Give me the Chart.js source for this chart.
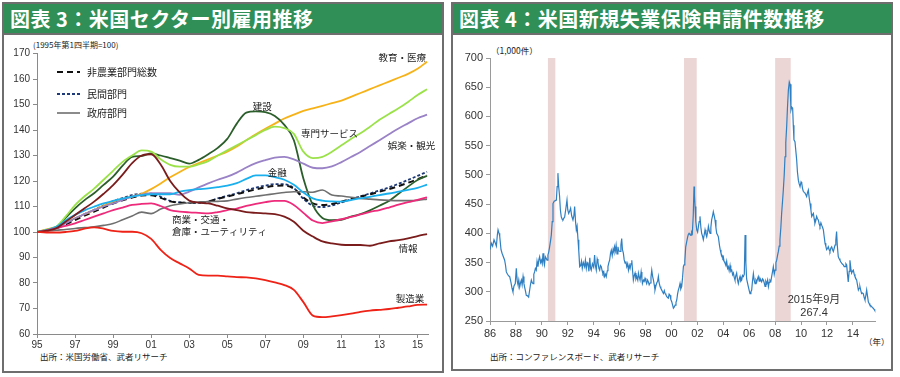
<!DOCTYPE html>
<html>
<head>
<meta charset="utf-8">
<script src="https://cdn.jsdelivr.net/npm/chart.js@4.4.1/dist/chart.umd.min.js"></script>
<style>
  body { margin: 0; width: 900px; height: 377px; background: #fff; position: relative; overflow: hidden;
         font-family: "Noto Sans CJK JP", "Liberation Sans", sans-serif; }
  .panel { position: absolute; border: 2px solid #6e6e6e; box-sizing: border-box; background: #fff; }
  .hdr { height: 29px; line-height: 29px; background: #2f8f57; color: #fff; font-weight: bold; font-size: 20px;
         padding-left: 6px; border-bottom: 2px solid #6e6e6e; white-space: nowrap; letter-spacing: 0.5px; }
  .note { position: absolute; font-size: 8.5px; color: #222; white-space: nowrap; line-height: 1; }
  canvas { position: absolute; }
</style>
</head>
<body>
<div class="panel" style="left:2px;top:2px;width:442px;height:371px"><div class="hdr">図表 3：米国セクター別雇用推移</div></div>
<div class="panel" style="left:451px;top:2px;width:442px;height:369px"><div class="hdr">図表 4：米国新規失業保険申請件数推移</div></div>

<div class="note" style="left:33px;top:41px;font-size:8px">(1995年第1四半期=100)</div>
<div class="note" style="left:40px;top:352px">出所：米国労働省、武者リサーチ</div>
<div class="note" style="left:491px;top:46px">（1,000件）</div>
<div class="note" style="left:864px;top:337px">（年）</div>
<div class="note" style="left:490px;top:352px">出所：コンファレンスボード、武者リサーチ</div>

<canvas id="jobs" width="435" height="330" style="left:5px;top:36px"></canvas>
<canvas id="claims" width="434" height="330" style="left:455px;top:36px"></canvas>

<script>
// ---- Chart 3: employment by sector (index, 1995 Q1 = 100), half-year readings ----
const years = [1995, 1995.5, 1996, 1996.5, 1997, 1997.5, 1998, 1998.5, 1999, 1999.5,
  2000, 2000.5, 2001, 2001.5, 2002, 2002.5, 2003, 2003.5, 2004, 2004.5,
  2005, 2005.5, 2006, 2006.5, 2007, 2007.5, 2008, 2008.5, 2009, 2009.5,
  2010, 2010.5, 2011, 2011.5, 2012, 2012.5, 2013, 2013.5, 2014, 2014.5,
  2015, 2015.5];

const totalNonfarm = [100, 100.7, 101.4, 103, 104.7, 106.4, 108, 109.6, 111.2, 112.4,
  113.5, 114.3, 114.4, 113.4, 112, 111.6, 111.5, 111.6, 111.9, 113,
  113.9, 114.8, 115.8, 116.7, 117.5, 118.1, 118.2, 117, 113.5, 111.2,
  110.6, 111, 111.9, 112.9, 113.9, 114.8, 115.8, 116.8, 118, 119.3,
  120.7, 122.3];
const privateSector = [100, 100.8, 101.6, 103.4, 105.2, 107, 108.7, 110.4, 112.1, 113.3,
  114.5, 115, 115, 113.8, 112.2, 111.6, 111.4, 111.4, 111.9, 113.2,
  114.2, 115.2, 116.4, 117.4, 118.2, 118.8, 118.7, 117.2, 113, 110.3,
  109.8, 110.4, 111.6, 112.8, 114, 115.1, 116.3, 117.5, 118.9, 120.4,
  122, 123.6];
const government = [100, 100.3, 100.7, 101, 101.4, 101.7, 102, 102.6, 103.3, 104.8,
  106.3, 107.8, 107.2, 109, 110.3, 111, 111.5, 111.7, 111.9, 112,
  112.2, 112.9, 113.5, 114, 114.5, 115, 115.5, 115.8, 115.8, 115.6,
  116.5, 114.5, 114.1, 113.6, 113.2, 112.9, 112.6, 112.4, 112.3, 112.3,
  112.4, 112.9];
const eduHealth = [100, 101, 102, 103.7, 105.4, 107, 108.6, 110.3, 111.9, 113,
  113.9, 115, 116.8, 119, 121.5, 123.5, 125.5, 127, 128.5, 130,
  131.5, 133.5, 136, 138.3, 140.5, 142.5, 144.5, 146, 147.5, 148.5,
  149.5, 150.5, 151.5, 153, 154.5, 156, 157.5, 159, 160.5, 162,
  164, 166.8];
const profServices = [100, 100.8, 102, 106, 110.5, 114, 117, 120.5, 124, 127.5,
  130, 132, 131.5, 128.5, 126.3, 125.6, 125.6, 126.5, 127.8, 130,
  132, 134, 136, 138, 140, 141.3, 140.7, 138.5, 131.5, 129,
  129.5, 131.5, 134, 136.5, 138.7, 141.3, 144, 146.3, 148.5, 151,
  153.7, 156];
const leisure = [100, 100.5, 101.4, 103.4, 105.4, 107, 108.6, 110, 111.2, 112.6,
  113.9, 114.6, 115.2, 115.2, 115.2, 114.6, 115.8, 117.5, 119.1, 120.5,
  121.7, 123.3, 125.3, 127, 128.2, 129.2, 129.5, 128.5, 126.8, 125.2,
  125, 125.7, 127.4, 129.4, 131.4, 133.7, 136, 138.3, 140.6, 142.6,
  144.6, 146];
const construction = [100, 100.5, 101.7, 105.5, 109.3, 112.5, 115.2, 118.5, 121.7, 126,
  129.5, 129.8, 130.8, 130, 129, 128, 126.8, 128.3, 130.5, 133,
  136.5, 142.5, 146.8, 147.3, 147, 145.5, 142, 136, 121, 110.5,
  105.5, 104.6, 104.8, 106, 107, 108.5, 110.3, 112.2, 115, 117.8,
  120.4, 122];
const finance = [100, 100.8, 102, 104.5, 106.7, 108.5, 109.9, 111.2, 112.2, 113.1,
  113.9, 114.5, 114.8, 114.8, 114.8, 115.8, 116.4, 116.8, 117.1, 117.6,
  118.2, 119.2, 120.8, 122.2, 122.2, 121.5, 120.5, 118.5, 115.5, 113.2,
  112.3, 112, 111.9, 112.5, 113.2, 113.8, 114.5, 115.1, 115.8, 116.5,
  117.3, 118.6];
const tradeTransport = [100, 100.5, 101.4, 102.4, 103.4, 104.7, 106, 107.3, 108.6, 109.6,
  110.6, 111, 111.2, 110.2, 108.6, 108, 107.7, 107.5, 107.3, 107.8,
  108.6, 109.2, 110.2, 111, 111.7, 112.2, 112.2, 110.6, 107.5, 104.5,
  103.5, 104.2, 105, 105.9, 106.9, 107.9, 108.6, 109.6, 110.7, 111.7,
  112.6, 113.6];
const information = [100, 100.5, 101.4, 104, 106.7, 109.3, 111.9, 115, 118.4, 122.5,
  127, 130, 130.5, 126.5, 120, 115.5, 112.3, 111.5, 111.2, 110.3,
  109.3, 108.6, 107.8, 107.5, 107.3, 107, 106, 104, 100.5, 98.2,
  96.3, 95.5, 95, 94.9, 94.9, 94.6, 95.5, 96.3, 96.8, 97.5,
  98.4, 99.2];
const manufacturing = [100, 99.8, 99.8, 100, 100.4, 101.3, 101.8, 101.3, 100.4, 100.1,
  100.1, 99.5, 97.3, 93, 89.8, 87.7, 85.7, 83.2, 82.9, 82.9,
  82.6, 82.3, 82.2, 81.8, 81.1, 80.2, 79.2, 77.3, 72.5, 67.2,
  66.6, 66.9, 67.4, 68, 68.7, 69.2, 69.5, 69.8, 70.3, 70.8,
  71.4, 71.5];
const jobsTickYears = [1995, 1997, 1999, 2001, 2003, 2005, 2007, 2009, 2011, 2013, 2015];

// ---- Chart 4: initial jobless claims (1,000), [decimal year, value] readings ----
const claims = [
  [1986.0,372],[1986.1,383],[1986.2,378],[1986.31,389],[1986.4,384],[1986.49,378],[1986.57,398],[1986.62,406],[1986.7,400],[1986.75,395],[1986.85,372],[1986.93,366],
  [1987.03,360],[1987.13,354],[1987.2,345],[1987.26,334],[1987.35,330],[1987.45,327],[1987.52,326],[1987.6,318],[1987.7,306],[1987.77,300],[1987.85,310],[1987.95,314],
  [1988.03,340],[1988.1,318],[1988.16,312],[1988.22,320],[1988.29,308],[1988.36,316],[1988.42,320],[1988.48,312],[1988.55,326],[1988.62,314],[1988.67,308],[1988.75,300],[1988.8,294],[1988.9,293],[1988.98,291],
  [1989.06,303],[1989.12,312],[1989.19,320],[1989.25,316],[1989.32,314],[1989.38,330],[1989.44,334],[1989.5,340],[1989.57,337],[1989.63,352],[1989.7,343],[1989.77,355],[1989.83,360],[1989.9,350],[1989.96,354],
  [1990.03,348],[1990.09,366],[1990.15,352],[1990.2,346],[1990.27,360],[1990.34,357],[1990.4,354],[1990.47,363],[1990.53,368],[1990.6,377],[1990.67,387],[1990.73,397],[1990.8,420],[1990.86,451],[1990.95,455],
  [1991.04,456],[1991.12,457],[1991.18,480],[1991.24,503],[1991.3,480],[1991.37,463],[1991.43,440],[1991.5,428],[1991.57,424],[1991.63,423],[1991.7,426],[1991.76,428],[1991.85,442],[1991.94,457],
  [1992.0,440],[1992.07,434],[1992.15,438],[1992.22,443],[1992.3,430],[1992.4,423],[1992.47,430],[1992.53,446],[1992.6,420],[1992.66,406],[1992.72,412],[1992.79,389],[1992.85,370],[1992.92,343],
  [1993.0,345],[1993.06,352],[1993.12,340],[1993.2,350],[1993.3,343],[1993.36,354],[1993.43,340],[1993.5,350],[1993.56,348],[1993.63,335],[1993.7,358],[1993.76,340],[1993.81,337],[1993.9,348],
  [1994.0,342],[1994.07,363],[1994.13,345],[1994.2,337],[1994.27,356],[1994.33,351],[1994.4,340],[1994.46,337],[1994.52,345],[1994.59,343],[1994.65,336],[1994.71,331],[1994.78,334],[1994.84,326],[1994.92,330],[1994.97,326],
  [1995.05,336],[1995.1,343],[1995.17,350],[1995.23,354],[1995.3,366],[1995.36,371],[1995.43,362],[1995.5,373],[1995.56,368],[1995.61,377],[1995.67,370],[1995.73,380],[1995.8,365],[1995.87,377],[1995.93,370],
  [1996.04,369],[1996.1,380],[1996.16,391],[1996.22,372],[1996.29,366],[1996.35,355],[1996.42,349],[1996.48,352],[1996.55,343],[1996.62,348],[1996.68,337],[1996.75,345],[1996.81,340],[1996.88,348],[1996.94,354],
  [1997.0,336],[1997.06,320],[1997.13,328],[1997.19,332],[1997.26,322],[1997.32,326],[1997.4,320],[1997.45,332],[1997.52,325],[1997.58,320],[1997.66,334],[1997.72,322],[1997.76,314],[1997.84,320],[1997.9,318],[1997.96,323],
  [1998.03,318],[1998.09,314],[1998.16,320],[1998.22,317],[1998.28,312],[1998.35,315],[1998.42,325],[1998.48,337],[1998.55,326],[1998.61,320],[1998.67,312],[1998.73,303],[1998.8,310],[1998.86,315],[1998.93,318],[1998.99,326],
  [1999.05,315],[1999.12,309],[1999.18,306],[1999.25,303],[1999.31,300],[1999.38,297],[1999.45,302],[1999.51,297],[1999.57,295],[1999.63,292],[1999.7,290],[1999.76,289],[1999.82,296],[1999.89,294],[1999.95,287],
  [2000.02,283],[2000.08,278],[2000.15,272],[2000.22,274],[2000.28,277],[2000.35,282],[2000.41,286],[2000.47,296],[2000.53,303],[2000.6,308],[2000.66,314],[2000.72,305],[2000.79,309],[2000.86,325],[2000.92,343],[2000.97,346],
  [2001.03,352],[2001.1,377],[2001.17,385],[2001.25,394],[2001.3,398],[2001.36,400],[2001.43,398],[2001.51,397],[2001.56,402],[2001.61,400],[2001.68,430],[2001.74,480],[2001.78,465],[2001.82,446],[2001.88,420],[2001.95,406],
  [2002.02,402],[2002.08,412],[2002.14,420],[2002.2,429],[2002.27,410],[2002.33,400],[2002.4,395],[2002.46,389],[2002.53,398],[2002.59,406],[2002.66,398],[2002.72,394],[2002.79,402],[2002.85,412],[2002.92,404],[2002.98,400],
  [2003.04,410],[2003.1,423],[2003.17,430],[2003.23,437],[2003.3,430],[2003.36,423],[2003.43,410],[2003.49,400],[2003.56,397],[2003.62,394],[2003.7,380],[2003.76,372],[2003.82,366],[2003.9,362],[2003.96,358],
  [2004.0,360],[2004.06,352],[2004.13,349],[2004.2,345],[2004.26,352],[2004.33,340],[2004.39,343],[2004.45,336],[2004.52,345],[2004.58,335],[2004.65,337],[2004.72,329],[2004.78,332],[2004.84,325],[2004.9,320],[2004.96,327],
  [2005.03,332],[2005.1,320],[2005.16,314],[2005.23,322],[2005.29,326],[2005.35,318],[2005.42,320],[2005.48,328],[2005.55,326],[2005.62,330],[2005.68,397],[2005.74,350],[2005.8,322],[2005.87,315],[2005.93,309],
  [2006.0,302],[2006.06,297],[2006.13,300],[2006.19,303],[2006.25,318],[2006.32,331],[2006.38,320],[2006.45,314],[2006.52,320],[2006.58,317],[2006.64,322],[2006.7,326],[2006.77,318],[2006.83,323],[2006.9,320],[2006.96,317],
  [2007.03,322],[2007.09,320],[2007.16,315],[2007.22,309],[2007.28,318],[2007.35,314],[2007.42,320],[2007.48,309],[2007.54,316],[2007.6,320],[2007.67,318],[2007.73,326],[2007.8,335],[2007.86,343],[2007.93,330],[2007.99,337],
  [2008.06,350],[2008.12,354],[2008.18,362],[2008.25,369],[2008.31,378],[2008.37,389],[2008.44,410],[2008.5,434],[2008.57,455],[2008.63,474],[2008.7,500],[2008.76,531],[2008.82,555],[2008.89,583],[2008.95,615],
  [2009.02,645],[2009.09,659],[2009.15,655],[2009.22,611],[2009.28,616],[2009.35,614],[2009.4,585],[2009.45,560],[2009.53,557],[2009.6,540],[2009.66,526],[2009.72,505],[2009.79,491],[2009.85,485],[2009.92,480],
  [2010.0,488],[2010.05,486],[2010.11,477],[2010.17,472],[2010.24,470],[2010.3,469],[2010.37,466],[2010.43,463],[2010.5,470],[2010.56,474],[2010.63,460],[2010.69,451],[2010.76,440],[2010.82,429],[2010.89,432],[2010.95,434],
  [2011.01,425],[2011.07,417],[2011.14,422],[2011.2,429],[2011.27,425],[2011.33,423],[2011.4,416],[2011.46,412],[2011.53,418],[2011.59,414],[2011.66,410],[2011.72,406],[2011.78,395],[2011.85,383],[2011.91,378],[2011.97,372],
  [2012.04,374],[2012.1,377],[2012.17,372],[2012.23,369],[2012.3,375],[2012.36,377],[2012.43,372],[2012.49,369],[2012.55,374],[2012.62,380],[2012.68,388],[2012.74,403],[2012.8,378],[2012.87,360],[2012.93,357],
  [2013.0,354],[2013.07,351],[2013.13,349],[2013.2,347],[2013.26,346],[2013.33,343],[2013.39,343],[2013.46,348],[2013.52,346],[2013.58,330],[2013.64,317],[2013.71,335],[2013.77,354],[2013.84,340],[2013.9,332],[2013.96,335],
  [2014.03,337],[2014.1,330],[2014.16,326],[2014.22,323],[2014.29,320],[2014.35,312],[2014.42,303],[2014.48,306],[2014.54,309],[2014.61,302],[2014.67,297],[2014.74,298],[2014.8,297],[2014.87,290],[2014.93,286],
  [2015.0,294],[2015.06,303],[2015.13,292],[2015.19,283],[2015.25,280],[2015.31,277],[2015.38,276],[2015.44,275],[2015.5,273],[2015.57,272],[2015.63,270],[2015.7,267.4]
];
const recessionStart = [1990.47, 2000.97, 2008.0];
const recessionEnd = [1991.04, 2001.95, 2009.2];
const claimsTickYears = [1986, 1988, 1990, 1992, 1994, 1996, 1998, 2000, 2002, 2004, 2006, 2008, 2010, 2012, 2014];

// ---- shared bits ----
const sans = '"Liberation Sans", Arial, "Noto Sans CJK JP", sans-serif';
const jp = '"Noto Sans CJK JP", "Liberation Sans", sans-serif';
Chart.defaults.font.family = sans;
Chart.defaults.color = '#333';

const yy = (v) => String(Math.round(v) % 100).padStart(2, '0');

// Text written at data coordinates inside the plot.
const textLabels = {
  id: 'textLabels',
  afterDatasetsDraw(chart, args, opts) {
    const { ctx, scales: { x, y } } = chart;
    ctx.save();
    ctx.font = opts.font;
    ctx.fillStyle = opts.color;
    ctx.textBaseline = 'middle';
    (opts.items || []).forEach(it => {
      ctx.textAlign = it.align || 'center';
      ctx.fillText(it.text, x.getPixelForValue(it.x), y.getPixelForValue(it.y));
    });
    ctx.restore();
  }
};

// Legend drawn inside the plot, top-left, for selected datasets.
const insetLegend = {
  id: 'insetLegend',
  afterDatasetsDraw(chart, args, opts) {
    if (!opts.indexes) return;
    const { ctx, chartArea } = chart;
    ctx.save();
    ctx.font = opts.font;
    ctx.textBaseline = 'middle';
    ctx.textAlign = 'left';
    opts.indexes.forEach((idx, i) => {
      const ds = chart.data.datasets[idx];
      const yPos = chartArea.top + opts.top + i * opts.rowGap[i];
      const x0 = chartArea.left + opts.left;
      ctx.strokeStyle = ds.borderColor;
      ctx.lineWidth = ds.borderWidth;
      ctx.setLineDash(ds.borderDash || []);
      ctx.beginPath();
      ctx.moveTo(x0, yPos);
      ctx.lineTo(x0 + opts.lineLen, yPos);
      ctx.stroke();
      ctx.fillStyle = '#222';
      ctx.fillText(ds.label, x0 + opts.lineLen + 7, yPos);
    });
    ctx.restore();
  }
};

// Shaded recession periods behind the claims line.
const bands = {
  id: 'bands',
  beforeDatasetsDraw(chart, args, opts) {
    if (!opts.starts) return;
    const { ctx, chartArea, scales: { x } } = chart;
    ctx.save();
    ctx.fillStyle = opts.color;
    opts.starts.forEach((s, i) => {
      const x0 = x.getPixelForValue(s);
      const x1 = x.getPixelForValue(opts.ends[i]);
      ctx.fillRect(x0, chartArea.top, x1 - x0, chartArea.bottom - chartArea.top);
    });
    ctx.restore();
  }
};

function sectorLine(label, values, color, extra) {
  return Object.assign({
    label,
    data: years.map((yr, i) => ({ x: yr, y: values[i] })),
    borderColor: color,
    borderWidth: 1.8,
    pointRadius: 0,
    cubicInterpolationMode: 'monotone',
    fill: false,
  }, extra || {});
}

// --- CHART 3 ---
new Chart(document.getElementById('jobs'), {
  type: 'line',
  data: {
    datasets: [
      sectorLine('製造業', manufacturing, '#ee2216'),
      sectorLine('情報', information, '#7b1c1c'),
      sectorLine('商業・交通・倉庫・ユーティリティ', tradeTransport, '#ee2a7b'),
      sectorLine('金融', finance, '#1ab0ee'),
      sectorLine('政府部門', government, '#6f6f6f', { borderWidth: 1.6 }),
      sectorLine('娯楽・観光', leisure, '#9a82c6'),
      sectorLine('専門サービス', profServices, '#9be24a'),
      sectorLine('建設', construction, '#2b5e2b'),
      sectorLine('教育・医療', eduHealth, '#f7b218'),
      sectorLine('非農業部門総数', totalNonfarm, '#111111', { borderDash: [6, 4], borderWidth: 2 }),
      sectorLine('民間部門', privateSector, '#1f3a78', { borderDash: [3, 2], borderWidth: 1.8 }),
    ]
  },
  options: {
    responsive: false,
    devicePixelRatio: 1,
    animation: false,
    layout: { padding: { top: 17.5, right: 12, left: 0, bottom: 0 } },
    scales: {
      x: {
        type: 'linear',
        min: 1995,
        max: 2015.55,
        afterBuildTicks: (s) => { s.ticks = jobsTickYears.map(v => ({ value: v })); },
        afterFit: (s) => { s.height = 32; },
        ticks: { callback: (v) => yy(v), font: { size: 10 }, color: '#333', padding: 1, maxRotation: 0, autoSkip: false },
        grid: { drawOnChartArea: false, drawTicks: true, tickLength: 4, color: '#8a8a8a' },
        border: { color: '#8a8a8a' },
      },
      y: {
        min: 60,
        max: 170,
        afterFit: (s) => { s.width = 32; },
        ticks: { stepSize: 10, font: { size: 10 }, color: '#333', padding: 3 },
        grid: { drawOnChartArea: false, drawTicks: true, tickLength: 4, color: '#8a8a8a' },
        border: { color: '#8a8a8a' },
      },
    },
    plugins: {
      legend: { display: false },
      tooltip: { enabled: false },
      insetLegend: {
        indexes: [9, 10, 4],
        font: '10px ' + jp,
        left: 20,
        top: 18.5,
        lineLen: 23,
        rowGap: [0, 22, 20.5],
      },
      textLabels: {
        font: '9.5px ' + jp,
        color: '#222',
        items: [
          { text: '教育・医療', x: 2014.2, y: 168.6 },
          { text: '建設', x: 2006.84, y: 149.4 },
          { text: '専門サービス', x: 2010.37, y: 138.8 },
          { text: '娯楽・観光', x: 2014.68, y: 134.1 },
          { text: '金融', x: 2007.63, y: 123.5 },
          { text: '商業・交通・', x: 2002.1, y: 105.1, align: 'left' },
          { text: '倉庫・ユーティリティ', x: 2002.1, y: 100.4, align: 'left' },
          { text: '情報', x: 2014.5, y: 93.7 },
          { text: '製造業', x: 2014.6, y: 74.1 },
        ],
      },
    },
  },
  plugins: [insetLegend, textLabels],
});

// --- CHART 4 ---
new Chart(document.getElementById('claims'), {
  type: 'line',
  data: {
    datasets: [{
      label: '新規失業保険申請件数',
      data: claims.map(([x, y]) => ({ x, y })),
      borderColor: '#2f7fc1',
      borderWidth: 1.2,
      pointRadius: 0,
      tension: 0,
      fill: false,
    }]
  },
  options: {
    responsive: false,
    devicePixelRatio: 1,
    animation: false,
    layout: { padding: { top: 22, right: 13.4, left: 0, bottom: 0 } },
    scales: {
      x: {
        type: 'linear',
        min: 1986,
        max: 2015.75,
        afterBuildTicks: (s) => { s.ticks = claimsTickYears.map(v => ({ value: v })); },
        afterFit: (s) => { s.height = 45; },
        ticks: { callback: (v) => yy(v), font: { size: 11 }, color: '#333', padding: 2, maxRotation: 0, autoSkip: false },
        grid: { drawOnChartArea: false, drawTicks: true, tickLength: 4, color: '#9a9a9a' },
        border: { color: '#9a9a9a' },
      },
      y: {
        min: 250,
        max: 700,
        afterFit: (s) => { s.width = 35; },
        ticks: { stepSize: 50, font: { size: 11 }, color: '#333', padding: 3 },
        grid: { drawOnChartArea: false, drawTicks: true, tickLength: 4, color: '#9a9a9a' },
        border: { color: '#9a9a9a' },
      },
    },
    plugins: {
      legend: { display: false },
      tooltip: { enabled: false },
      bands: { starts: recessionStart, ends: recessionEnd, color: '#ecd5d5' },
      textLabels: {
        font: '11px ' + sans,
        color: '#333',
        items: [
          { text: '2015年9月', x: 2011.0, y: 286 },
          { text: '267.4', x: 2011.0, y: 263.7 },
        ],
      },
    },
  },
  plugins: [bands, textLabels],
});
</script>
</body>
</html>
